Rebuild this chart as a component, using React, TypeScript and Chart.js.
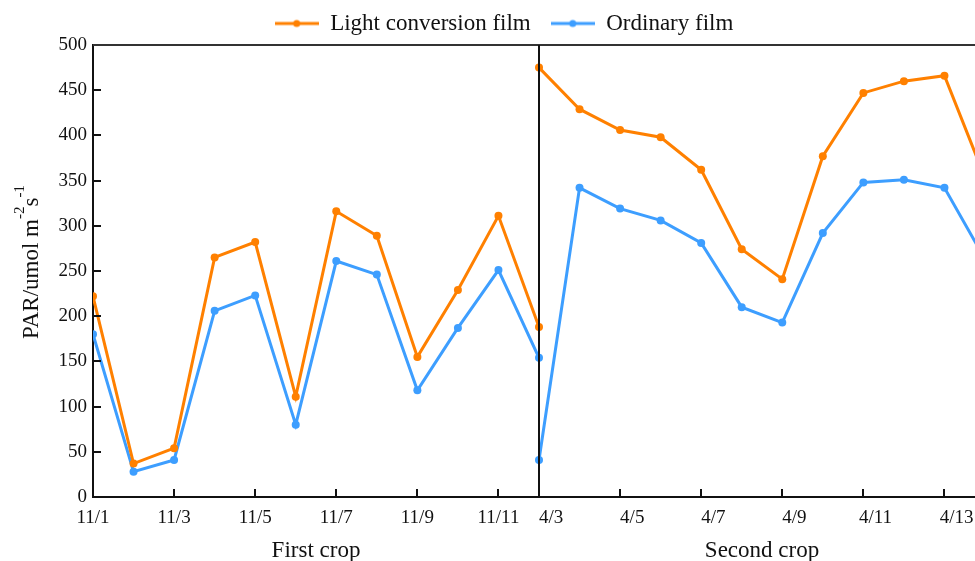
import React, { useEffect, useRef } from 'react';
import { Chart, registerables } from 'chart.js';

Chart.register(...registerables);

// ---- data ----
const firstCropDates = ['11/1', '11/2', '11/3', '11/4', '11/5', '11/6', '11/7', '11/8', '11/9', '11/10', '11/11', '11/12'];
const secondCropDates = ['4/3', '4/4', '4/5', '4/6', '4/7', '4/8', '4/9', '4/10', '4/11', '4/12', '4/13', '4/14'];

const lightFirst = [222, 37, 54, 265, 282, 111, 316, 289, 155, 229, 311, 188];
const ordinaryFirst = [180, 28, 41, 206, 223, 80, 261, 246, 118, 187, 251, 154];
const lightSecond = [475, 429, 406, 398, 362, 274, 241, 377, 447, 460, 466, 353];
const ordinarySecond = [41, 342, 319, 306, 281, 210, 193, 292, 348, 351, 342, 263];

const firstTickLabels = ['11/1', '11/3', '11/5', '11/7', '11/9', '11/11'];
const secondTickLabels = ['4/3', '4/5', '4/7', '4/9', '4/11', '4/13'];
const yTickValues = [0, 50, 100, 150, 200, 250, 300, 350, 400, 450, 500];

const seriesNames = ['Light conversion film', 'Ordinary film'];
const panelTitles = ['First crop', 'Second crop'];

const COLORS = ['#FF8000', '#3D9EFF'];
const FONT = "'Liberation Serif', 'Times New Roman', serif";
const INK = '#111111';

export default function App() {
  const ref = useRef<HTMLCanvasElement>(null);

  useEffect(() => {
    const canvas = ref.current;
    if (!canvas) return;

    const secondOffset = firstCropDates.length - 1; // shared boundary position
    const labelShift = 0.3;

    const buildPoints = (a: number[], b: number[]) => {
      const pts: { x: number; y: number | null }[] = [];
      a.forEach((v, i) => pts.push({ x: i, y: v }));
      pts.push({ x: secondOffset, y: null });
      b.forEach((v, i) => pts.push({ x: secondOffset + i, y: v }));
      return pts;
    };

    const tickLabelMap = new Map<number, string>();
    const markPositions: number[] = [];
    firstTickLabels.forEach((l) => {
      const idx = firstCropDates.indexOf(l);
      tickLabelMap.set(idx, l);
      if (idx > 0) markPositions.push(idx);
    });
    secondTickLabels.forEach((l) => {
      const idx = secondOffset + secondCropDates.indexOf(l);
      tickLabelMap.set(+(idx + labelShift).toFixed(2), l);
      if (idx > secondOffset) markPositions.push(idx);
    });
    const xTickValues = Array.from(tickLabelMap.keys());

    const makeLegendImg = (color: string) => {
      const c = document.createElement('canvas');
      c.width = 44;
      c.height = 12;
      const g = c.getContext('2d')!;
      g.strokeStyle = color;
      g.lineWidth = 3;
      g.beginPath();
      g.moveTo(0, 6);
      g.lineTo(44, 6);
      g.stroke();
      g.fillStyle = color;
      g.beginPath();
      g.arc(22, 6, 3.5, 0, Math.PI * 2);
      g.fill();
      return c;
    };
    const legendImgs = COLORS.map(makeLegendImg);

    const decor = {
      id: 'decor',
      afterDraw(chart: any) {
        const { ctx, chartArea: a, scales } = chart;
        const x = scales.x;
        const y = scales.y;
        ctx.save();
        ctx.lineCap = 'butt';
        // top frame line
        ctx.strokeStyle = '#333333';
        ctx.lineWidth = 2;
        ctx.beginPath();
        ctx.moveTo(a.left, a.top);
        ctx.lineTo(a.right, a.top);
        ctx.stroke();
        // divider between crops
        ctx.strokeStyle = INK;
        const dx = Math.round(x.getPixelForValue(secondOffset));
        ctx.beginPath();
        ctx.moveTo(dx, a.top);
        ctx.lineTo(dx, a.bottom);
        ctx.stroke();
        // inward y ticks
        yTickValues.forEach((v) => {
          if (v === 0 || v === 500) return;
          const py = Math.round(y.getPixelForValue(v));
          ctx.beginPath();
          ctx.moveTo(a.left, py);
          ctx.lineTo(a.left + 8, py);
          ctx.stroke();
        });
        // inward x ticks
        markPositions.forEach((v) => {
          const px = Math.round(x.getPixelForValue(v));
          ctx.beginPath();
          ctx.moveTo(px, a.bottom);
          ctx.lineTo(px, a.bottom - 8);
          ctx.stroke();
        });
        // panel titles
        ctx.fillStyle = INK;
        ctx.font = `23px ${FONT}`;
        ctx.textAlign = 'center';
        ctx.textBaseline = 'alphabetic';
        const c1 = x.getPixelForValue(secondOffset / 2);
        const c2 = x.getPixelForValue(secondOffset + (secondCropDates.length - 1) / 2);
        ctx.fillText(panelTitles[0], c1, a.bottom + 60);
        ctx.fillText(panelTitles[1], c2, a.bottom + 60);
        // y title with superscripts
        const parts: [string, boolean][] = [
          ['PAR/umol m', false],
          ['-2', true],
          ['s', false],
          ['-1', true],
        ];
        const mainFont = `23px ${FONT}`;
        const supFont = `15px ${FONT}`;
        let total = 0;
        parts.forEach(([t, s]) => {
          ctx.font = s ? supFont : mainFont;
          total += ctx.measureText(t).width;
        });
        ctx.translate(30, (a.top + a.bottom) / 2 - 9);
        ctx.rotate(-Math.PI / 2);
        ctx.textAlign = 'left';
        let cx = -total / 2;
        parts.forEach(([t, s]) => {
          ctx.font = s ? supFont : mainFont;
          ctx.fillText(t, cx, s ? -14 : 0);
          cx += ctx.measureText(t).width;
        });
        ctx.restore();
      },
    };

    const chart = new Chart(canvas, {
      type: 'line',
      data: {
        datasets: [
          {
            label: seriesNames[0],
            data: buildPoints(lightFirst, lightSecond) as any,
            borderColor: COLORS[0],
            backgroundColor: COLORS[0],
            pointBackgroundColor: COLORS[0],
            pointBorderColor: COLORS[0],
            borderWidth: 3,
            pointRadius: 4,
            pointBorderWidth: 0,
            spanGaps: false,
            tension: 0,
          },
          {
            label: seriesNames[1],
            data: buildPoints(ordinaryFirst, ordinarySecond) as any,
            borderColor: COLORS[1],
            backgroundColor: COLORS[1],
            pointBackgroundColor: COLORS[1],
            pointBorderColor: COLORS[1],
            borderWidth: 3,
            pointRadius: 4,
            pointBorderWidth: 0,
            spanGaps: false,
            tension: 0,
          },
        ],
      },
      options: {
        responsive: false,
        animation: false,
        layout: { padding: { left: 15, right: 15, top: 2, bottom: 0 } },
        plugins: {
          tooltip: { enabled: false },
          legend: {
            position: 'top',
            labels: {
              font: { family: FONT, size: 23 },
              color: INK,
              usePointStyle: true,
              pointStyleWidth: 44,
              padding: 20,
              generateLabels(ch: any) {
                const items = Chart.defaults.plugins.legend.labels.generateLabels(ch);
                return items.map((it: any, i: number) => ({ ...it, pointStyle: legendImgs[i] }));
              },
            },
          },
        },
        scales: {
          x: {
            type: 'linear',
            min: 0,
            max: secondOffset + secondCropDates.length - 1,
            grid: { display: false, drawTicks: false },
            border: { display: true, color: INK, width: 2 },
            afterBuildTicks(scale: any) {
              scale.ticks = xTickValues.map((v) => ({ value: v }));
            },
            afterFit(scale: any) {
              scale.height = 83;
            },
            ticks: {
              autoSkip: false,
              maxRotation: 0,
              padding: 10,
              color: INK,
              font: { family: FONT, size: 19 },
              callback(value: any) {
                return tickLabelMap.get(+(+value).toFixed(2)) ?? '';
              },
            },
          },
          y: {
            min: 0,
            max: 500,
            grid: { display: false, drawTicks: false },
            border: { display: true, color: INK, width: 2 },
            afterFit(scale: any) {
              scale.width = 70;
            },
            ticks: {
              stepSize: 50,
              padding: 6,
              color: INK,
              font: { family: FONT, size: 19 },
            },
          },
        },
      },
      plugins: [decor],
    });

    return () => chart.destroy();
  }, []);

  return (
    <div
      style={{
        position: 'fixed',
        left: 0,
        top: 0,
        width: 975,
        height: 561,
        overflow: 'hidden',
        background: '#ffffff',
      }}
    >
      <div style={{ position: 'absolute', left: 8, top: -10, width: 992, height: 590 }}>
        <canvas ref={ref} width={992} height={590} style={{ display: 'block' }} />
      </div>
    </div>
  );
}
